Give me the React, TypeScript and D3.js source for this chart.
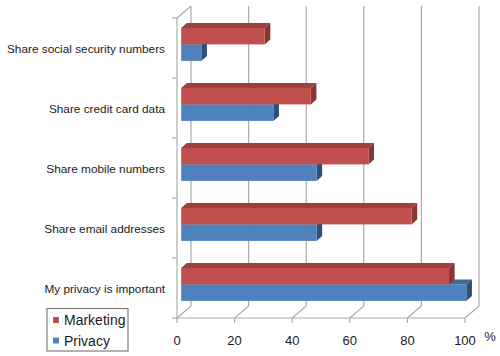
import React from "react";
import * as d3 from "d3";

const categories = [
  "Share social security numbers",
  "Share credit card data",
  "Share mobile numbers",
  "Share email addresses",
  "My privacy is important",
];
const seriesNames = ["Marketing", "Privacy"];
const marketing = [29, 45, 65, 80, 93];
const privacy = [7, 32, 47, 47, 99];
const xTicks = [0, 20, 40, 60, 80, 100];

const W = 500;
const H = 356;
const DX = 14;
const DY = -12;
const F1 = 0.3;
const F2 = 0.7;
const FONT = "'Liberation Sans', Arial, sans-serif";

const colors: Record<string, { front: string; top: string; side: string }> = {
  Marketing: { front: "#C0504D", top: "#9E3F3C", side: "#8A3533" },
  Privacy: { front: "#4F81BD", top: "#3F6A9E", side: "#2E4F7A" },
};

export default function App() {
  const x = d3.scaleLinear().domain([0, 100]).range([177, 465]);
  const y = d3.scaleBand().domain(categories).range([18, 318]);
  const inner = d3
    .scaleBand()
    .domain(seriesNames)
    .range([0, y.bandwidth()])
    .paddingInner(0)
    .paddingOuter(0.818);
  const yTop = 18;
  const yBot = 318;
  const grid = "#ABABAB";

  const bars: JSX.Element[] = [];
  categories.forEach((c, i) => {
    // draw Privacy first (lower), then Marketing on top
    ["Privacy", "Marketing"].forEach((s) => {
      const v = s === "Marketing" ? marketing[i] : privacy[i];
      const col = colors[s];
      const xa = x(0) + F1 * DX;
      const xb = x(v) + F1 * DX;
      const ya = (y(c) as number) + (inner(s) as number) + F1 * DY;
      const h = inner.bandwidth();
      const ddx = (F2 - F1) * DX;
      const ddy = (F2 - F1) * DY;
      bars.push(
        <g key={c + s}>
          <polygon
            points={`${xa},${ya} ${xb},${ya} ${xb + ddx},${ya + ddy} ${xa + ddx},${ya + ddy}`}
            fill={col.top}
          />
          <polygon
            points={`${xb},${ya} ${xb},${ya + h} ${xb + ddx},${ya + h + ddy} ${xb + ddx},${ya + ddy}`}
            fill={col.side}
          />
          <rect x={xa} y={ya} width={xb - xa} height={h} fill={col.front} />
        </g>
      );
    });
  });

  const catBounds = [...categories.map((c) => y(c) as number), yBot];

  return (
    <svg
      width={W}
      height={H}
      style={{ position: "absolute", left: 0, top: 0, background: "#fff" }}
      fontFamily={FONT}
    >
      <rect x={0} y={0} width={W} height={H} fill="#fff" />
      {/* back wall gridlines */}
      {xTicks.map((t) => (
        <line
          key={"g" + t}
          x1={x(t) + DX}
          x2={x(t) + DX}
          y1={yTop + DY}
          y2={yBot + DY}
          stroke={grid}
          strokeWidth={1.2}
        />
      ))}
      {/* floor diagonals */}
      {xTicks.map((t) => (
        <line
          key={"f" + t}
          x1={x(t)}
          y1={yBot}
          x2={x(t) + DX}
          y2={yBot + DY}
          stroke={grid}
          strokeWidth={1.2}
        />
      ))}
      {/* left wall top diagonal */}
      <line x1={x(0)} y1={yTop} x2={x(0) + DX} y2={yTop + DY} stroke={grid} strokeWidth={1.2} />
      {/* left axis */}
      <line x1={x(0)} y1={yTop} x2={x(0)} y2={yBot} stroke={grid} strokeWidth={1.2} />
      {catBounds.map((b, i) => (
        <line key={"ct" + i} x1={x(0) - 5} x2={x(0)} y1={b} y2={b} stroke={grid} strokeWidth={1.2} />
      ))}
      {/* bottom axis */}
      <line x1={x(0)} y1={yBot} x2={x(100)} y2={yBot} stroke={grid} strokeWidth={1.2} />
      {xTicks.map((t) => (
        <line key={"xt" + t} x1={x(t)} x2={x(t)} y1={yBot} y2={yBot + 5} stroke={grid} strokeWidth={1.2} />
      ))}
      {bars}
      {/* category labels */}
      {categories.map((c) => (
        <text
          key={"l" + c}
          x={165}
          y={(y(c) as number) + y.bandwidth() / 2 + 1}
          textAnchor="end"
          dominantBaseline="central"
          fontSize={11.8}
          fill="#1a1a1a"
        >
          {c}
        </text>
      ))}
      {/* x tick labels */}
      {xTicks.map((t) => (
        <text
          key={"xl" + t}
          x={x(t)}
          y={340}
          textAnchor="middle"
          dominantBaseline="central"
          fontSize={13}
          fill="#1a1a1a"
        >
          {t}
        </text>
      ))}
      <text x={490} y={336} textAnchor="middle" dominantBaseline="central" fontSize={13} fill="#1a1a1a">
        %
      </text>
      {/* legend */}
      <rect x={47} y={308.5} width={81} height={42.5} fill="#fff" stroke="#7F7F7F" strokeWidth={1.2} />
      {seriesNames.map((s, i) => (
        <g key={"lg" + s}>
          <rect x={53} y={317 + i * 20.5} width={6} height={6} fill={colors[s].front} />
          <text
            x={64}
            y={320 + i * 20.5}
            dominantBaseline="central"
            fontSize={14}
            fill="#1a1a1a"
          >
            {s}
          </text>
        </g>
      ))}
    </svg>
  );
}
